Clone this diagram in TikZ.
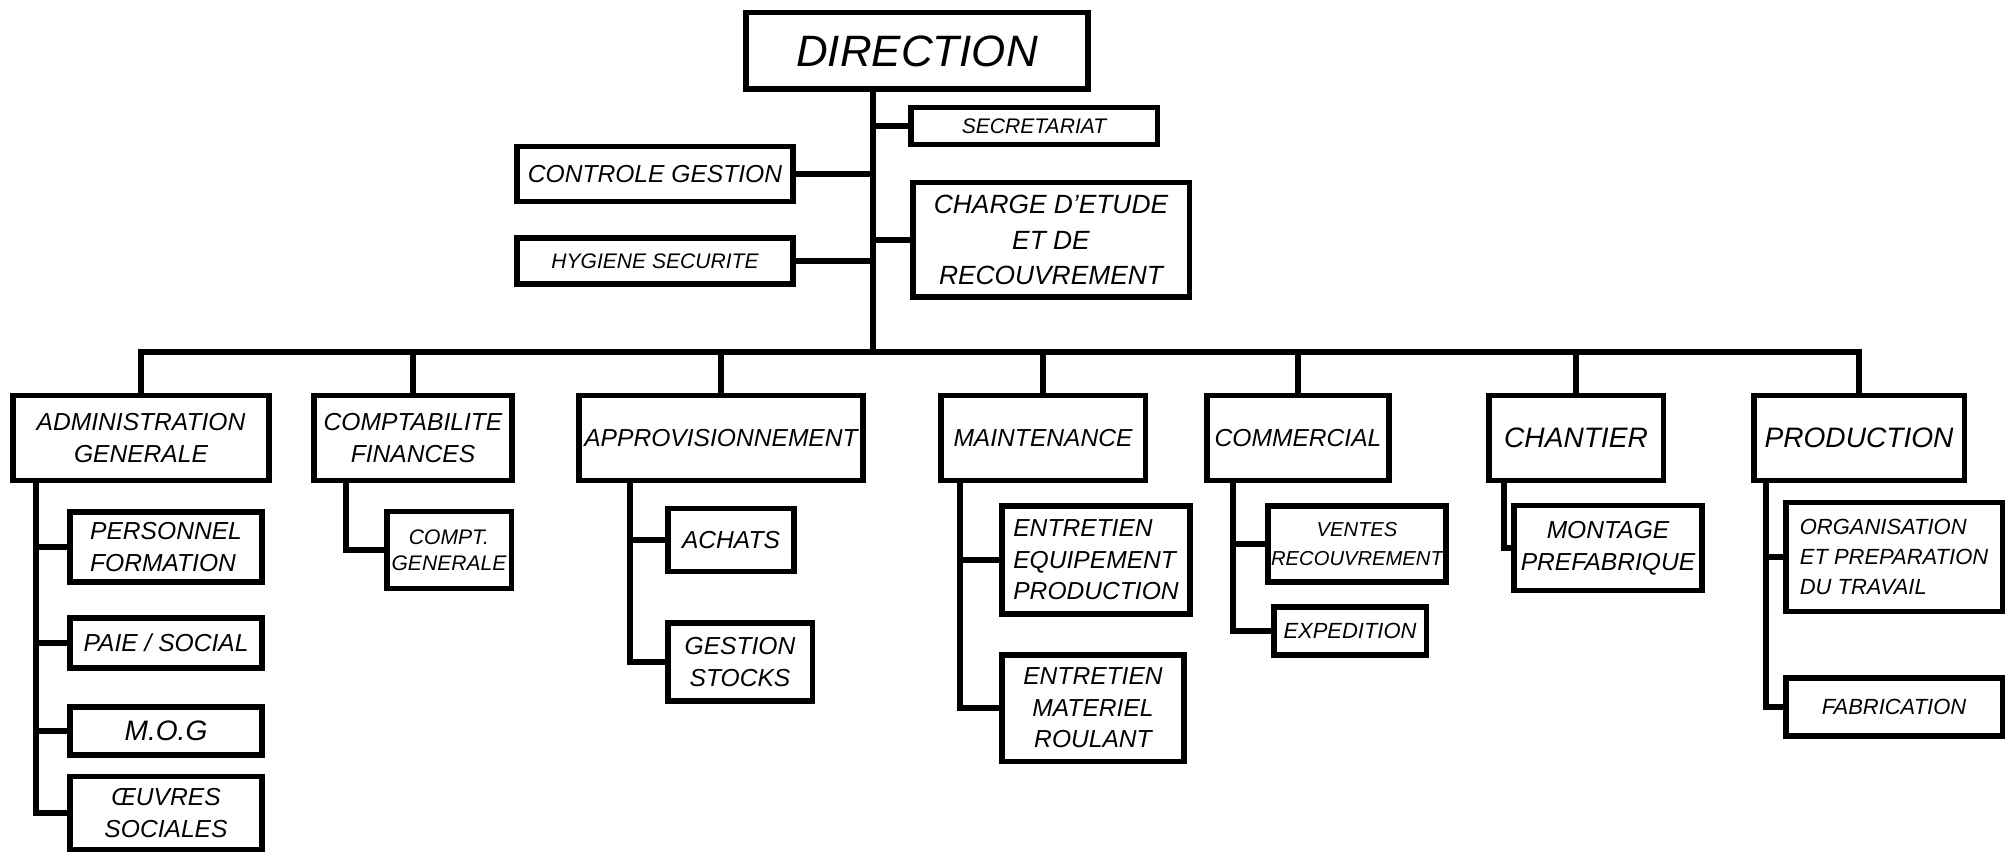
\documentclass[tikz,border=0pt]{standalone}
\usepackage{fontspec}
\setmainfont{Liberation Sans}
\usepackage{tikz}

\tikzset{
  unit/.style={draw, line width=3.4pt, rectangle, inner sep=2pt, align=center,
    font=\itshape\fontsize{14}{18}\selectfont},
  link/.style={line width=3.4pt, line cap=rect},
}

\begin{document}
\begin{tikzpicture}[x=0.02cm,y=-0.02cm]
    \useasboundingbox (0,0) rectangle (2007,854);

    % Direction and staff
    \node[unit, minimum width=6.86cm, minimum height=1.54cm, font=\itshape\fontsize{25}{28}\selectfont] (direction) at (917,51) {DIRECTION};
    \node[unit, minimum width=4.94cm, minimum height=0.74cm, font=\itshape\fontsize{12}{14}\selectfont] (secr) at (1034,126) {SECRETARIAT};
    \node[unit, minimum width=5.54cm, minimum height=1.1cm] (ctrl) at (655,174) {CONTROLE GESTION};
    \node[unit, minimum width=5.54cm, minimum height=2.3cm, font=\itshape\fontsize{15}{20}\selectfont] (charge) at (1051,240) {CHARGE D'ETUDE\\ET DE\\RECOUVREMENT};
    \node[unit, minimum width=5.54cm, minimum height=0.92cm, font=\itshape\fontsize{12}{14}\selectfont] (hyg) at (655,261) {HYGIENE SECURITE};

    \coordinate (bus) at (873,352);
    \draw[link] (direction.south -| bus) -- (bus);
    \draw[link] (secr.west) -- (secr.west -| bus);
    \draw[link] (ctrl.east) -- (ctrl.east -| bus);
    \draw[link] (charge.west) -- (charge.west -| bus);
    \draw[link] (hyg.east) -- (hyg.east -| bus);

    % Departments
    \node[unit, minimum width=5.12cm, minimum height=1.7cm] (admin) at (141,438) {ADMINISTRATION\\GENERALE};
    \node[unit, minimum width=3.96cm, minimum height=1.7cm] (compt) at (413,438) {COMPTABILITE\\FINANCES};
    \node[unit, minimum width=5.7cm, minimum height=1.7cm] (appro) at (721,438) {APPROVISIONNEMENT};
    \node[unit, minimum width=4.1cm, minimum height=1.7cm] (maint) at (1043,438) {MAINTENANCE};
    \node[unit, minimum width=3.64cm, minimum height=1.7cm] (comm) at (1298,438) {COMMERCIAL};
    \node[unit, minimum width=3.5cm, minimum height=1.7cm, font=\itshape\fontsize{16}{18}\selectfont] (chant) at (1576,438) {CHANTIER};
    \node[unit, minimum width=4.22cm, minimum height=1.7cm, font=\itshape\fontsize{16}{18}\selectfont] (prod) at (1859,438) {PRODUCTION};

    \draw[link] (admin.north) |- (bus) -| (prod.north);
    \foreach \n in {compt,appro,maint,comm,chant}
        \draw[link] (\n.north) -- (\n.north |- bus);

    % Administration generale
    \node[unit, minimum width=3.84cm, minimum height=1.4cm, align=left] (pers) at (166,547) {PERSONNEL\\FORMATION};
    \node[unit, minimum width=3.84cm, minimum height=1.0cm] (paie) at (166,643) {PAIE / SOCIAL};
    \node[unit, minimum width=3.84cm, minimum height=0.96cm, font=\itshape\fontsize{16}{18}\selectfont] (mog) at (166,731) {M.O.G};
    \node[unit, minimum width=3.84cm, minimum height=1.46cm] (oeuv) at (166,813) {ŒUVRES\\SOCIALES};
    \coordinate (admv) at (36,481);
    \draw[link] (admv) |- (oeuv.west);
    \foreach \n in {pers,paie,mog}
        \draw[link] (\n.west) -- (\n.west -| admv);

    % Comptabilite
    \node[unit, minimum width=2.5cm, minimum height=1.54cm, font=\itshape\fontsize{12}{15}\selectfont] (cgen) at (449,550) {COMPT.\\GENERALE};
    \coordinate (comv) at (346,481);
    \draw[link] (comv) |- (cgen.west);

    % Approvisionnement
    \node[unit, minimum width=2.52cm, minimum height=1.26cm] (achats) at (731,540) {ACHATS};
    \node[unit, minimum width=2.9cm, minimum height=1.56cm] (gest) at (740,662) {GESTION\\STOCKS};
    \coordinate (appv) at (630,481);
    \draw[link] (appv) |- (gest.west);
    \draw[link] (achats.west) -- (achats.west -| appv);

    % Maintenance
    \node[unit, minimum width=3.76cm, minimum height=2.16cm, align=left] (eep) at (1096,560) {ENTRETIEN\\EQUIPEMENT\\PRODUCTION};
    \node[unit, minimum width=3.64cm, minimum height=2.14cm] (emr) at (1093,708) {ENTRETIEN\\MATERIEL\\ROULANT};
    \coordinate (mntv) at (960,481);
    \draw[link] (mntv) |- (emr.west);
    \draw[link] (eep.west) -- (eep.west -| mntv);

    % Commercial
    \node[unit, minimum width=3.32cm, minimum height=1.52cm, font=\itshape\fontsize{11.5}{16}\selectfont] (vent) at (1357,544) {VENTES\\RECOUVREMENT};
    \node[unit, minimum width=3.06cm, minimum height=0.96cm, font=\itshape\fontsize{12.5}{15}\selectfont] (exped) at (1350,631) {EXPEDITION};
    \coordinate (comcv) at (1233,481);
    \draw[link] (comcv) |- (exped.west);
    \draw[link] (vent.west) -- (vent.west -| comcv);

    % Chantier
    \node[unit, minimum width=3.76cm, minimum height=1.7cm] (mont) at (1608,548) {MONTAGE\\PREFABRIQUE};
    \coordinate (chav) at (1504,481);
    \draw[link] (chav) |- (mont.west);

    % Production
    \node[unit, minimum width=4.34cm, minimum height=2.18cm, align=left, font=\itshape\fontsize{12.5}{17}\selectfont] (org) at (1894,557) {ORGANISATION\\ET PREPARATION\\DU TRAVAIL};
    \node[unit, minimum width=4.34cm, minimum height=1.16cm, font=\itshape\fontsize{12.5}{15}\selectfont] (fab) at (1894,707) {FABRICATION};
    \coordinate (prov) at (1766,481);
    \draw[link] (prov) |- (fab.west);
    \draw[link] (org.west) -- (org.west -| prov);
\end{tikzpicture}
\end{document}
